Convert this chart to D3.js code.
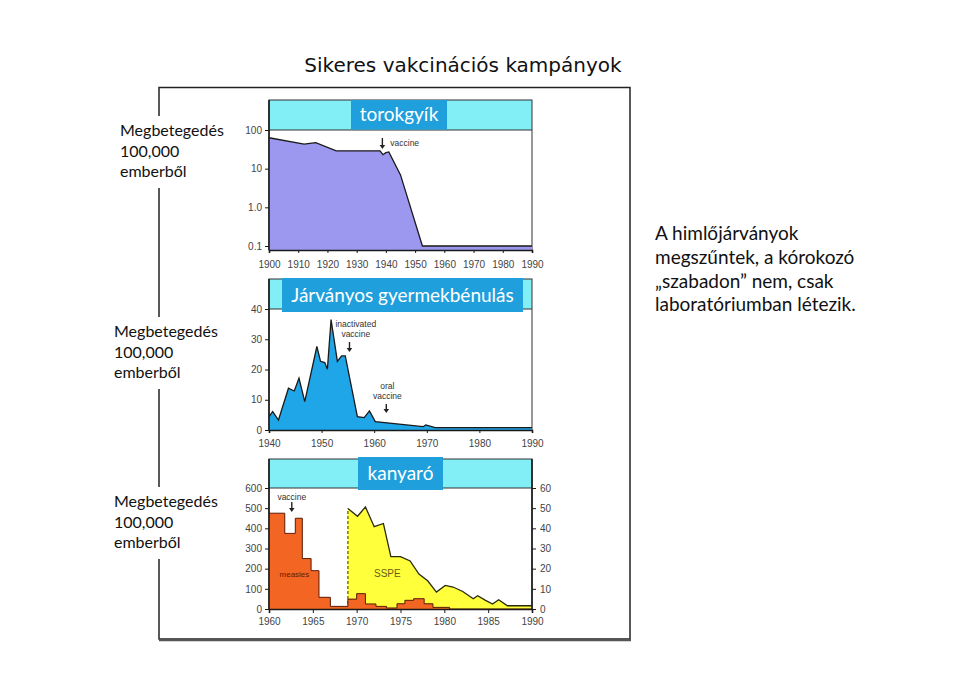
<!DOCTYPE html>
<html><head><meta charset="utf-8">
<script src="https://cdn.jsdelivr.net/npm/d3@7"></script>
<style>
html,body{margin:0;padding:0;background:#fff;}
svg{display:block;}
</style></head>
<body>
<svg id="chart" width="962" height="680"></svg>
<script>
// ---------- DATA ----------
const chartTitle = "Sikeres vakcinációs kampányok";
const yLabelLines = ["Megbetegedés", "100,000", "emberből"];
const sideNoteLines = ["A himlőjárványok", "megszűntek, a kórokozó", "„szabadon” nem, csak", "laboratóriumban létezik."];

const panelTitles = ["torokgyík", "Járványos gyermekbénulás", "kanyaró"];

// Diphtheria (log scale)
const diphYears  = [1900, 1912, 1916, 1923, 1938, 1939, 1940, 1941, 1945, 1952.5, 1990];
const diphValues = [63,   43,   47,   29,   29,   23,   26,   27,   6.9,  0.1,    0.1];
const diphYTicks = [100, 10, 1, 0.1];
const diphYTickLabels = ["100", "10", "1.0", "0.1"];
const diphXTicks = [1900, 1910, 1920, 1930, 1940, 1950, 1960, 1970, 1980, 1990];

// Polio
const polioYears  = [1940, 1940.7, 1941.8, 1943.7, 1944.8, 1945.7, 1946.8, 1949.1, 1949.8, 1950.6, 1951.1, 1951.8, 1953, 1953.8, 1954.5, 1956.8, 1958.1, 1959.1, 1960.2, 1969.3, 1969.8, 1971.6, 1990];
const polioValues = [4.4,  6.1,    3.3,    13.8,   12.9,   17.1,   9.4,    27.6,   22.7,   22.3,   20.1,   36.5,   22.7, 24.5,   24.5,   4.4,    4.1,    6.3,    2.8,    1.1,    1.7,    0.8,    0.8];
const polioYTicks = [0, 10, 20, 30, 40];
const polioXTicks = [1940, 1950, 1960, 1970, 1980, 1990];

// Measles (step, left axis) : step start years and values
const measlesYears  = [1960, 1961.8, 1963, 1963.8, 1964.8, 1965.7, 1967, 1969, 1970, 1971, 1972.2, 1973.4, 1974.6, 1975.5, 1976.5, 1977.7, 1978.7, 1980.6, 1990];
const measlesValues = [475,  375,    450,  250,    190,    58,     13,   49,   76,   25,   13,     5,      26,     43,     51,     26,     8,      0,      0];
// SSPE (right axis)
const sspeYears  = [1969, 1970.1, 1971, 1972, 1973.05, 1973.9, 1975, 1976.1, 1977.1, 1978.1, 1979.1, 1980.1, 1981, 1982.1, 1983.3, 1983.8, 1984.7, 1985.5, 1986.2, 1987.2, 1990];
const sspeValues = [49.8, 46,     50.6, 40.8, 42.4,    26,     26,   23.8,   17.3,   14,     8.4,    11.7,   10.9, 8.7,    5.1,    6.6,    4.3,    2.5,    4.6,    1.6,    1.6];
const measlesYTicks = [0, 100, 200, 300, 400, 500, 600];
const sspeYTicks = [0, 10, 20, 30, 40, 50, 60];
const measlesXTicks = [1960, 1965, 1970, 1975, 1980, 1985, 1990];

// ---------- DRAW ----------
const svg = d3.select("#chart");
const C = {
  band: "#82eff6", label: "#1f9fdc", diph: "#9c97ef", polio: "#1fa6e8",
  measles: "#f26522", sspe: "#ffff3c", line: "#1a1a1a", tick: "#444"
};
const tickFont = "'Liberation Sans Narrow', 'Liberation Sans', Arial, sans-serif";
const textFont = "Lato, 'Open Sans', sans-serif";

// Outer frame
svg.append("rect").attr("x", 159).attr("y", 87.5).attr("width", 471).attr("height", 551.5)
  .attr("fill", "none").attr("stroke", "#222").attr("stroke-width", 1.5);
svg.append("line").attr("x1", 159).attr("x2", 631).attr("y1", 640).attr("y2", 640)
  .attr("stroke", "#555").attr("stroke-width", 2.5);

// Title
svg.append("text").attr("x", 463).attr("y", 72).attr("text-anchor", "middle")
  .attr("font-family", "'DejaVu Sans', sans-serif").attr("font-size", 20).attr("fill", "#111")
  .text(chartTitle);

// Side note
sideNoteLines.forEach((t, i) => {
  svg.append("text").attr("x", 655).attr("y", 240 + i * 23.8)
    .attr("font-family", textFont).attr("font-size", 19).attr("fill", "#111").text(t);
});

function yLabel(x, y0) {
  svg.append("rect").attr("x", x - 6).attr("y", y0 - 20).attr("width", 125).attr("height", 72).attr("fill", "#fff");
  yLabelLines.forEach((t, i) => {
    svg.append("text").attr("x", x).attr("y", y0 + i * 20.7)
      .attr("font-family", textFont).attr("font-size", 16).attr("fill", "#111").text(t);
  });
}
yLabel(120, 136);
yLabel(114, 337);
yLabel(114, 507);

function styleAxis(g) {
  g.selectAll("path.domain").attr("stroke", C.line).attr("stroke-width", 1.6);
  g.selectAll(".tick line").attr("stroke", C.line).attr("stroke-width", 1);
  g.selectAll(".tick text").attr("font-family", tickFont).attr("font-size", 10).attr("fill", C.tick);
}

function panelFrame(x0, x1, top, bandBottom, bottom, title, labelBox) {
  svg.append("rect").attr("x", x0).attr("y", top).attr("width", x1 - x0).attr("height", bandBottom - top)
    .attr("fill", C.band);
  svg.append("rect").attr("x", x0).attr("y", top).attr("width", x1 - x0).attr("height", bottom - top)
    .attr("fill", "none").attr("stroke", "#333").attr("stroke-width", 1);
  svg.append("line").attr("x1", x0).attr("x2", x1).attr("y1", bandBottom).attr("y2", bandBottom)
    .attr("stroke", "#333").attr("stroke-width", 1);
}
function panelLabel(title, box) {
  svg.append("rect").attr("x", box[0]).attr("y", box[1]).attr("width", box[2]).attr("height", box[3])
    .attr("fill", C.label);
  svg.append("text").attr("x", box[0] + box[2] / 2).attr("y", box[1] + box[3] / 2 + 6.5)
    .attr("text-anchor", "middle").attr("font-family", textFont).attr("font-size", 19)
    .attr("fill", "#fff").text(title);
}
function arrow(x, y1, y2) {
  svg.append("line").attr("x1", x).attr("x2", x).attr("y1", y1).attr("y2", y2 - 3)
    .attr("stroke", "#222").attr("stroke-width", 1.4);
  svg.append("path").attr("d", `M${x - 2.8},${y2 - 4}L${x + 2.8},${y2 - 4}L${x},${y2}Z`).attr("fill", "#222");
}
function note(x, y, t, anchor) {
  svg.append("text").attr("x", x).attr("y", y).attr("text-anchor", anchor || "middle")
    .attr("font-family", tickFont).attr("font-size", 8.5).attr("fill", "#333").text(t);
}

// ---- Panel 1: diphtheria ----
{
  const x = d3.scaleLinear().domain([1900, 1990]).range([269, 532]);
  const y = d3.scaleLog().domain([0.1, 100]).range([246, 130]);
  const bottom = 250;
  panelFrame(269, 532, 100, 130, bottom);
  const pts = diphYears.map((d, i) => [d, diphValues[i]]);
  svg.append("path").datum(pts)
    .attr("d", d3.area().x(d => x(d[0])).y0(bottom).y1(d => y(d[1])))
    .attr("fill", C.diph);
  svg.append("path").datum(pts)
    .attr("d", d3.line().x(d => x(d[0])).y(d => y(d[1])))
    .attr("fill", "none").attr("stroke", C.line).attr("stroke-width", 1.3);
  const ga = svg.append("g").attr("transform", `translate(0,${bottom})`)
    .call(d3.axisBottom(x).tickValues(diphXTicks).tickFormat(d3.format("d")).tickSize(3).tickPadding(8));
  styleAxis(ga);
  const gl = svg.append("g").attr("transform", "translate(269,0)")
    .call(d3.axisLeft(y).tickValues(diphYTicks).tickFormat((d, i) => diphYTickLabels[i]).tickSize(4).tickPadding(3));
  gl.select("path.domain").attr("d", `M-0,100V${bottom}`);
  styleAxis(gl);
  arrow(x(1938.8), 138, 149);
  note(x(1941.5), 146, "vaccine", "start");
  panelLabel(panelTitles[0], [351, 100, 96, 29.5]);
}

// ---- Panel 2: polio ----
{
  const x = d3.scaleLinear().domain([1940, 1990]).range([269, 532]);
  const y = d3.scaleLinear().domain([0, 40]).range([430, 309]);
  const bottom = 430;
  panelFrame(269, 532, 279, 309, bottom);
  const pts = polioYears.map((d, i) => [d, polioValues[i]]);
  svg.append("path").datum(pts)
    .attr("d", d3.area().x(d => x(d[0])).y0(y(0)).y1(d => y(d[1])))
    .attr("fill", C.polio);
  svg.append("path").datum(pts)
    .attr("d", d3.line().x(d => x(d[0])).y(d => y(d[1])))
    .attr("fill", "none").attr("stroke", C.line).attr("stroke-width", 1.3);
  const ga = svg.append("g").attr("transform", `translate(0,${bottom})`)
    .call(d3.axisBottom(x).tickValues(polioXTicks).tickFormat(d3.format("d")).tickSize(3).tickPadding(7));
  styleAxis(ga);
  const gl = svg.append("g").attr("transform", "translate(269,0)")
    .call(d3.axisLeft(y).tickValues(polioYTicks).tickSize(4).tickPadding(3));
  gl.select("path.domain").attr("d", `M-0,279V${bottom}`);
  styleAxis(gl);
  note(x(1956.5), 327, "inactivated");
  note(x(1956.5), 337, "vaccine");
  arrow(x(1955.3), 342, 352);
  note(x(1962.5), 389, "oral");
  note(x(1962.5), 399, "vaccine");
  arrow(x(1962.3), 404, 413);
  panelLabel(panelTitles[1], [282, 278, 241, 34]);
}

// ---- Panel 3: measles + SSPE ----
{
  const x = d3.scaleLinear().domain([1960, 1990]).range([269, 532]);
  const yL = d3.scaleLinear().domain([0, 600]).range([609, 488]);
  const yR = d3.scaleLinear().domain([0, 60]).range([609, 488]);
  const bottom = 609;
  panelFrame(269, 532, 459, 488, bottom);
  const sp = sspeYears.map((d, i) => [d, sspeValues[i]]);
  svg.append("path").datum(sp)
    .attr("d", d3.area().x(d => x(d[0])).y0(yR(0)).y1(d => yR(d[1])))
    .attr("fill", C.sspe);
  svg.append("path").datum(sp)
    .attr("d", d3.line().x(d => x(d[0])).y(d => yR(d[1])))
    .attr("fill", "none").attr("stroke", "#2a2a10").attr("stroke-width", 1.3);
  svg.append("line").attr("x1", x(sspeYears[0])).attr("x2", x(sspeYears[0]))
    .attr("y1", yR(0)).attr("y2", yR(sspeValues[0]))
    .attr("stroke", "#6b5a10").attr("stroke-width", 1.3).attr("stroke-dasharray", "3,2");
  const mp = measlesYears.map((d, i) => [d, measlesValues[i]]);
  svg.append("path").datum(mp)
    .attr("d", d3.area().curve(d3.curveStepAfter).x(d => x(d[0])).y0(yL(0)).y1(d => yL(d[1])))
    .attr("fill", C.measles);
  svg.append("path").datum(mp)
    .attr("d", d3.line().curve(d3.curveStepAfter).x(d => x(d[0])).y(d => yL(d[1])))
    .attr("fill", "none").attr("stroke", "#5a1a08").attr("stroke-width", 1);
  const ga = svg.append("g").attr("transform", `translate(0,${bottom})`)
    .call(d3.axisBottom(x).tickValues(measlesXTicks).tickFormat(d3.format("d")).tickSize(4).tickPadding(5));
  styleAxis(ga);
  const gl = svg.append("g").attr("transform", "translate(269,0)")
    .call(d3.axisLeft(yL).tickValues(measlesYTicks).tickSize(4).tickPadding(3));
  gl.select("path.domain").attr("d", `M-0,459V${bottom}`);
  styleAxis(gl);
  const gr = svg.append("g").attr("transform", "translate(532,0)")
    .call(d3.axisRight(yR).tickValues(sspeYTicks).tickSize(4).tickPadding(4));
  gr.select("path.domain").attr("d", `M0,459V${bottom}`);
  styleAxis(gr);
  note(x(1962.6), 500, "vaccine");
  arrow(x(1962.6), 502, 512);
  svg.append("text").attr("x", x(1962.9)).attr("y", 577).attr("text-anchor", "middle")
    .attr("font-family", tickFont).attr("font-size", 8).attr("fill", "#6a1a00").text("measles");
  svg.append("text").attr("x", x(1973.5)).attr("y", 577).attr("text-anchor", "middle")
    .attr("font-family", tickFont).attr("font-size", 10).attr("fill", "#6a6010").text("SSPE");
  panelLabel(panelTitles[2], [358, 457, 85, 33]);
}
</script>
</body></html>
